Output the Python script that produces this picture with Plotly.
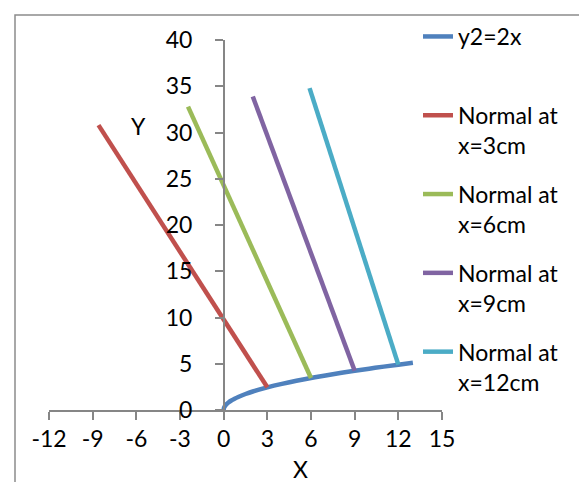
import plotly.graph_objects as go

# Parabola y^2 = 2x
curve_x = [0, 0.01, 0.05, 0.1, 0.2, 0.35, 0.5, 0.75, 1, 1.5, 2, 3, 4, 5, 6, 7, 8, 9, 10, 11, 12, 13]
curve_y = [0, 0.14, 0.32, 0.45, 0.63, 0.84, 1.0, 1.22, 1.41, 1.73, 2.0, 2.45, 2.83, 3.16, 3.46, 3.74, 4.0, 4.24, 4.47, 4.69, 4.9, 5.1]

# Normal lines (endpoints)
n3_x = [3, -8.6]
n3_y = [2.45, 30.8]
n6_x = [6, -2.45]
n6_y = [3.46, 32.8]
n9_x = [9, 2.0]
n9_y = [4.24, 33.9]
n12_x = [12, 5.9]
n12_y = [4.9, 34.8]

names = ["y2=2x<br> ", "Normal at<br>x=3cm", "Normal at<br>x=6cm", "Normal at<br>x=9cm", "Normal at<br>x=12cm"]
colors = ["#4F81BD", "#C0504D", "#9BBB59", "#8064A2", "#4BACC6"]

x_ticks = [-12, -9, -6, -3, 0, 3, 6, 9, 12, 15]
x_labels = ["-12", "-9", "-6", "-3", "0", "3", "6", "9", "12", "15"]
y_ticks = [0, 5, 10, 15, 20, 25, 30, 35, 40]
y_labels = ["0", "5", "10", "15", "20", "25", "30", "35", "40"]

W, H = 587, 482
L, R, T, B = 41, 434, 32, 402

fig = go.Figure()
series = [(curve_x, curve_y), (n3_x, n3_y), (n6_x, n6_y), (n9_x, n9_y), (n12_x, n12_y)]
for i, ((xs, ys), nm, c) in enumerate(zip(series, names, colors)):
    fig.add_trace(go.Scatter(x=xs, y=ys, mode="lines", name=nm,
                             legendgroup=f"g{i}",
                             line=dict(color=c, width=4.5, shape="spline" if i == 0 else "linear")))

font = dict(family="Lato, 'Liberation Sans', sans-serif", size=23, color="black")
x0frac = 12 / 27
fig.update_layout(
    width=W, height=H,
    margin=dict(l=L, r=W - R, t=T, b=H - B, autoexpand=False),
    paper_bgcolor="white", plot_bgcolor="white",
    font=font,
    showlegend=True,
    legend=dict(x=(410 - L) / (R - L), xanchor="left", y=1 + (T - 7) / (B - T), yanchor="top",
                valign="top", tracegroupgap=16, font=font, bgcolor="rgba(0,0,0,0)",
                maxheight=478),
    xaxis=dict(range=[-12, 15], tickvals=x_ticks, ticktext=x_labels, showgrid=False, zeroline=False,
               showline=True, linecolor="#868686", linewidth=1.5,
               ticks="outside", ticklen=8, tickcolor="#868686", tickwidth=1.5,
               tickfont=font, automargin=False),
    yaxis=dict(range=[0, 40], tickvals=y_ticks, ticktext=y_labels, showgrid=False, zeroline=False,
               showline=True, linecolor="#868686", linewidth=1.5,
               ticks="outside", ticklen=8, tickcolor="#868686", tickwidth=1.5,
               tickfont=font, anchor="free", position=x0frac, automargin=False,
               ticklabelstandoff=18),
    annotations=[
        dict(text="Y", xref="paper", yref="paper", x=(130 - L) / (R - L), y=(B - 118) / (B - T),
             showarrow=False, font=font, xanchor="center", yanchor="middle"),
        dict(text="X", xref="paper", yref="paper", x=(292 - L) / (R - L), y=(B - 461) / (B - T),
             showarrow=False, font=font, xanchor="center", yanchor="middle"),
    ],
    shapes=[dict(type="rect", xref="paper", yref="paper",
                 x0=(7 - L) / (R - L), y0=-2, x1=3, y1=(B - 7) / (B - T),
                 line=dict(color="#8c8c8c", width=1.5), fillcolor="rgba(0,0,0,0)", layer="below")],
)

fig.write_html("out.html")
